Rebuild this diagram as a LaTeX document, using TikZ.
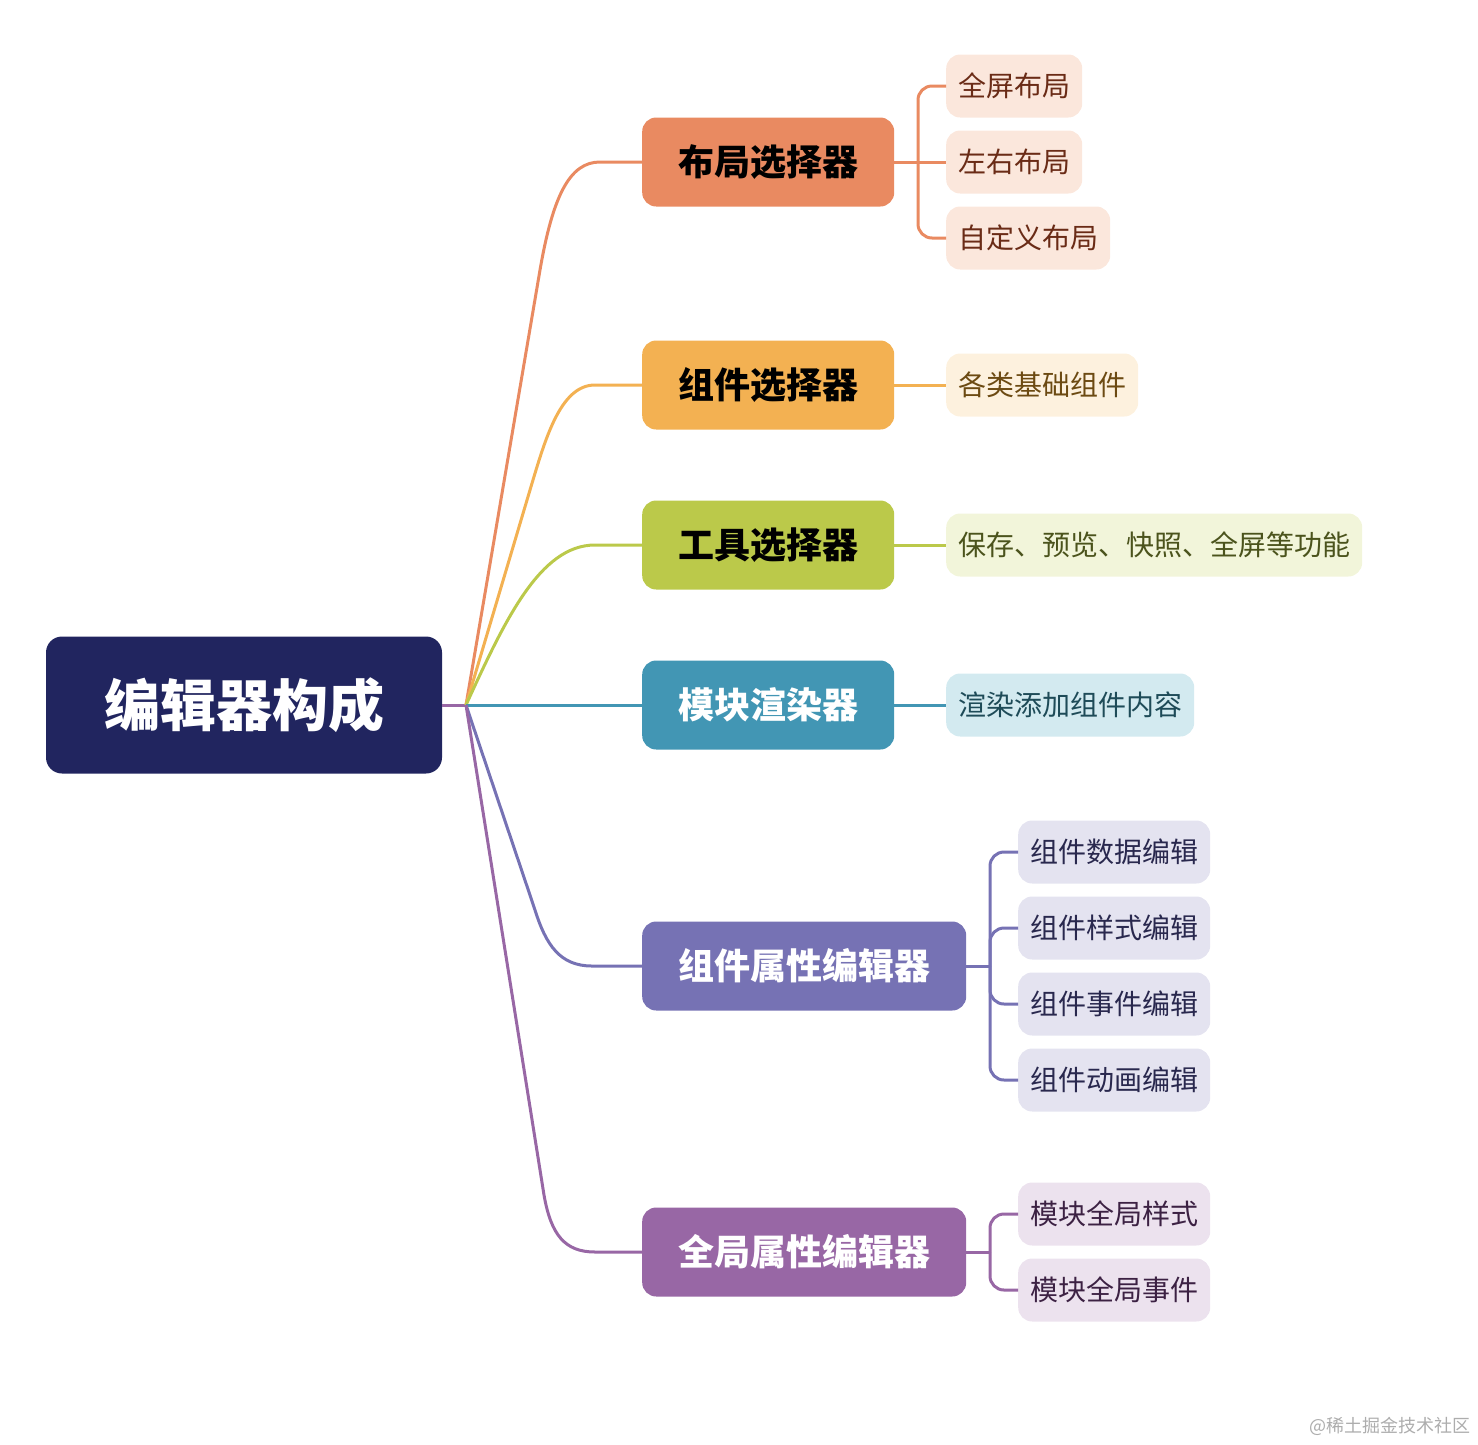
\documentclass[tikz,border=0pt]{standalone}
\usepackage{fontspec}
\newfontfamily\cjk{Noto Sans CJK SC}
\usetikzlibrary{
    positioning
}

\definecolor{coreC}{HTML}{21255F}
\definecolor{layC}{HTML}{E98A61}
\definecolor{layL}{HTML}{FBE7DC}
\definecolor{layT}{HTML}{6A2B16}
\definecolor{cmpC}{HTML}{F3B152}
\definecolor{cmpL}{HTML}{FDF1DE}
\definecolor{cmpT}{HTML}{6C4A12}
\definecolor{tolC}{HTML}{BBC94A}
\definecolor{tolL}{HTML}{F2F5DA}
\definecolor{tolT}{HTML}{4B531C}
\definecolor{rndC}{HTML}{4296B4}
\definecolor{rndL}{HTML}{D3EAF0}
\definecolor{rndT}{HTML}{1E4B58}
\definecolor{prpC}{HTML}{7672B4}
\definecolor{prpL}{HTML}{E4E3F0}
\definecolor{prpT}{HTML}{29284E}
\definecolor{glbC}{HTML}{9867A5}
\definecolor{glbL}{HTML}{ECE2EE}
\definecolor{glbT}{HTML}{3C2143}

\tikzset{
    core/.style={rounded corners=16pt, fill=coreC, text=white,
        minimum width=396pt, minimum height=137pt,
        font=\cjk\bfseries\fontsize{56}{60}\selectfont},
    topic/.style={rounded corners=14pt, fill=#1, anchor=west,
        minimum height=89pt, inner xsep=36pt,
        font=\cjk\bfseries\fontsize{36}{40}\selectfont},
    leaf/.style 2 args={rounded corners=14pt, fill=#1, text=#2, anchor=west,
        minimum height=63pt, inner xsep=12pt,
        font=\cjk\fontsize{28}{32}\selectfont},
    link/.style={draw=#1, line width=3pt},
    fork/.style={draw=#1, line width=3pt, rounded corners=14pt}
}

\begin{document}
\begin{tikzpicture}[x=1pt, y=-1pt]
    \useasboundingbox (0,0) rectangle (1478,1444);

    % root
    \node[core] (core) at (244,705) {编辑器构成};
    \coordinate (hub) at (466,705);

    % first level
    \node[topic=layC]             (lay) at (642,162)  {布局选择器};
    \node[topic=cmpC]             (cmp) at (642,385)  {组件选择器};
    \node[topic=tolC]             (tol) at (642,545)  {工具选择器};
    \node[topic=rndC, text=white] (rnd) at (642,705)  {模块渲染器};
    \node[topic=prpC, text=white] (prp) at (642,966)  {组件属性编辑器};
    \node[topic=glbC, text=white] (glb) at (642,1252) {全局属性编辑器};

    % leaves
    \node[leaf={layL}{layT}] (lay-a) at (946,86)   {全屏布局};
    \node[leaf={layL}{layT}] (lay-b) at (946,162)  {左右布局};
    \node[leaf={layL}{layT}] (lay-c) at (946,238)  {自定义布局};
    \node[leaf={cmpL}{cmpT}] (cmp-a) at (946,385)  {各类基础组件};
    \node[leaf={tolL}{tolT}] (tol-a) at (946,545)  {保存、预览、快照、全屏等功能};
    \node[leaf={rndL}{rndT}] (rnd-a) at (946,705)  {渲染添加组件内容};
    \node[leaf={prpL}{prpT}] (prp-a) at (1018,852) {组件数据编辑};
    \node[leaf={prpL}{prpT}] (prp-b) at (1018,928) {组件样式编辑};
    \node[leaf={prpL}{prpT}] (prp-c) at (1018,1004) {组件事件编辑};
    \node[leaf={prpL}{prpT}] (prp-d) at (1018,1080) {组件动画编辑};
    \node[leaf={glbL}{glbT}] (glb-a) at (1018,1214) {模块全局样式};
    \node[leaf={glbL}{glbT}] (glb-b) at (1018,1290) {模块全局事件};

    % root to first level
    \draw[link=glbC] (core.east) -- (hub);
    \draw[link=layC] (hub) -- (540,270) .. controls (553,195) and (570,162) .. (600,162) -- (lay.west);
    \draw[link=cmpC] (hub) -- (530,490) .. controls (545,440) and (560,385) .. (595,385) -- (cmp.west);
    \draw[link=tolC] (hub) .. controls (505,620) and (540,545) .. (595,545) -- (tol.west);
    \draw[link=rndC] (hub) -- (rnd.west);
    \draw[link=prpC] (hub) -- (535,910) .. controls (546,945) and (560,966) .. (592,966) -- (prp.west);
    \draw[link=glbC] (hub) -- (544,1195) .. controls (551,1235) and (565,1252) .. (595,1252) -- (glb.west);

    % first level to leaves
    \coordinate (lay-fork) at (918,162);
    \draw[link=layC] (lay.east) -- (lay-b.west);
    \draw[fork=layC] (lay-fork) |- (lay-a.west);
    \draw[fork=layC] (lay-fork) |- (lay-c.west);
    \draw[link=cmpC] (cmp.east) -- (cmp-a.west);
    \draw[link=tolC] (tol.east) -- (tol-a.west);
    \draw[link=rndC] (rnd.east) -- (rnd-a.west);

    \coordinate (prp-fork) at (990,966);
    \draw[link=prpC] (prp.east) -- (prp-fork);
    \draw[fork=prpC] (prp-fork) |- (prp-a.west);
    \draw[fork=prpC] (prp-fork) |- (prp-b.west);
    \draw[fork=prpC] (prp-fork) |- (prp-c.west);
    \draw[fork=prpC] (prp-fork) |- (prp-d.west);

    \coordinate (glb-fork) at (990,1252);
    \draw[link=glbC] (glb.east) -- (glb-fork);
    \draw[fork=glbC] (glb-fork) |- (glb-a.west);
    \draw[fork=glbC] (glb-fork) |- (glb-b.west);

    % watermark
    \node[anchor=east, text=black!32, font=\cjk\fontsize{18}{20}\selectfont] (credit) at (1474,1426) {@稀土掘金技术社区};
\end{tikzpicture}
\end{document}
